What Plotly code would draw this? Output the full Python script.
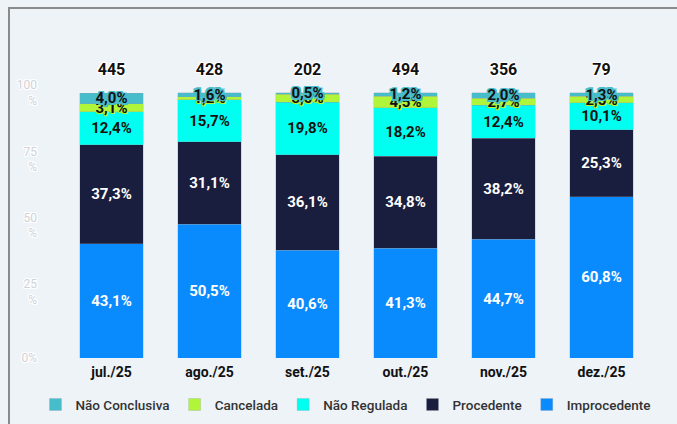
import plotly.graph_objects as go

months = ["jul./25", "ago./25", "set./25", "out./25", "nov./25", "dez./25"]
totals = [445, 428, 202, 494, 356, 79]
improcedente = [43.1, 50.5, 40.6, 41.3, 44.7, 60.8]
procedente = [37.3, 31.1, 36.1, 34.8, 38.2, 25.3]
nao_regulada = [12.4, 15.7, 19.8, 18.2, 12.4, 10.1]
cancelada = [3.1, 1.2, 3.0, 4.5, 2.7, 2.5]
nao_conclusiva = [4.0, 1.6, 0.5, 1.2, 2.0, 1.3]
y_ticks = [0, 25, 50, 75, 100]
y_ticktext = ["0%", "25<br>%", "50<br>%", "75<br>%", "100<br>%"]

def fmt(v):
    return f"{v:.1f}".replace(".", ",") + "%"

def halo(c, r=1):
    pts = [(-r, -r), (r, -r), (-r, r), (r, r), (0, r), (0, -r), (r, 0), (-r, 0)]
    return ", ".join(f"{x}px {y}px 0 {c}" for x, y in pts)

series = [
    ("Improcedente", improcedente, "#0a8bfd", "white", "none"),
    ("Procedente", procedente, "#1a1e3e", "white", "none"),
    ("Não Regulada", nao_regulada, "#00fff0", "#111111", "none"),
    ("Cancelada", cancelada, "#b0f53a", "#111111", halo("#b0f53a")),
    ("Não Conclusiva", nao_conclusiva, "#47bccb", "#111111", halo("#47bccb", 1.5)),
]

fig = go.Figure()
for name, vals, color, tcolor, shadow in series:
    fig.add_trace(go.Bar(
        x=months, y=vals, name=name,
        marker=dict(color=color, line=dict(color="rgba(150,160,170,0.6)", width=0.5)),
        text=[fmt(v) for v in vals],
        textposition="inside", insidetextanchor="middle",
        constraintext="none",
        textfont=dict(family="Roboto", size=15, color=tcolor, weight="bold", shadow=shadow),
        hoverinfo="skip",
    ))

fig.add_trace(go.Scatter(
    x=months, y=[108.4] * len(months), mode="text",
    text=[str(t) for t in totals], showlegend=False, cliponaxis=False,
    textfont=dict(family="Roboto", size=16, color="#111111", weight="bold", shadow=halo("white")),
    hoverinfo="skip",
))

L, R, T, B = 38, 0, 61, 66
W, H = 677, 424
pw, ph = W - L - R, H - T - B
step = 98.0
c0 = 111.5
fig.update_layout(
    width=W, height=H,
    barmode="stack", bargap=0.357,
    paper_bgcolor="#eef3f8", plot_bgcolor="#eef3f8",
    margin=dict(l=L, r=R, t=T, b=B, autoexpand=False),
    font=dict(family="Roboto"),
    hovermode=False,
    xaxis=dict(showgrid=False, showline=False, zeroline=False,
               range=[-(c0 - L) / step, (W - R - c0) / step],
               tickfont=dict(family="Roboto", size=14, color="#111111", weight="bold"),
               ticks="", ticklabelstandoff=4),
    yaxis=dict(range=[0, 112], tickvals=y_ticks, ticktext=y_ticktext,
               showgrid=False, zeroline=False, showline=False,
               tickfont=dict(family="Roboto", size=12, color="#cfd3d8", shadow=halo("white")),
               ticklabelstandoff=0),
    legend=dict(orientation="h", x=(346 - L) / pw, xanchor="center", y=-0.105, yanchor="top",
                traceorder="reversed",
                font=dict(family="Roboto", size=13.5, color="#333333", weight=500),
                itemwidth=30),
    shapes=[dict(type="rect", xref="paper", yref="paper",
                 x0=(9 - L) / pw, x1=(760 - L) / pw,
                 y0=(H - B - 500) / ph, y1=(H - B - 8) / ph,
                 line=dict(color="#8a8a8a", width=2), fillcolor="rgba(0,0,0,0)", layer="below")],
)

fig.write_html("out.html",
               config={"displayModeBar": False},
               post_script="document.body.style.margin='0';document.body.style.overflow='hidden';")
